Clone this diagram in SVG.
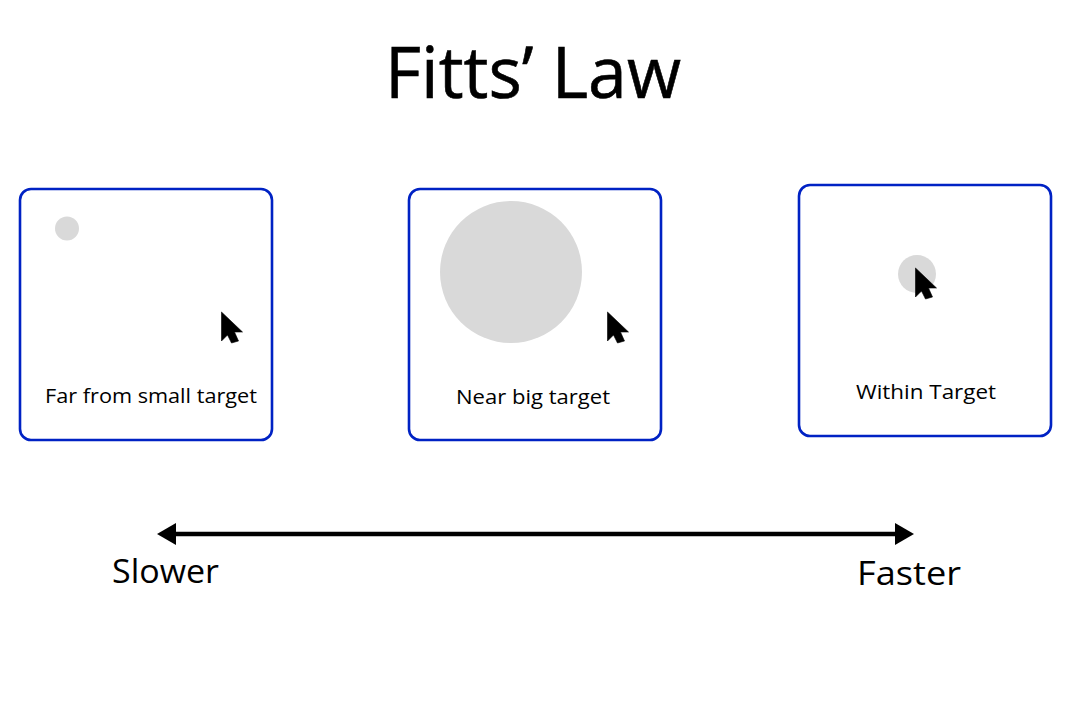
<svg xmlns="http://www.w3.org/2000/svg" width="1069" height="723" viewBox="0 0 1069 723">
<style>
.card{fill:#fff;stroke:#0022c4;stroke-width:2.6}
.target{fill:#d9d9d9}
.label{font-family:"Open Sans","Liberation Sans",sans-serif;font-size:20px;fill:#000}
.end{font-family:"Open Sans","Liberation Sans",sans-serif;font-size:33px;fill:#000}
.title{font-family:"Open Sans","Liberation Sans",sans-serif;font-size:71px;fill:#000}
</style>
<defs>
<path id="cursor" d="M0,0 L0,29 L6,23 L10,31 L17,29 L13,20 L21,20 Z" fill="#000" stroke="#000" stroke-width="0.6" stroke-linejoin="round"/>
<marker id="head" markerUnits="userSpaceOnUse" markerWidth="19" markerHeight="24" refX="8" refY="12" orient="auto-start-reverse">
<path d="M0,1 L19,12 L0,23 Z" fill="#000"/>
</marker>
</defs>
<rect width="1069" height="723" fill="#fff"/>
<text id="title" class="title" x="533" y="97.500" text-anchor="middle" textLength="296" lengthAdjust="spacingAndGlyphs" stroke="#000" stroke-width="0.6">Fitts’ Law</text>
<g id="node-far">
<rect class="card" x="20" y="189" width="252" height="251" rx="11"/>
<circle class="target" cx="67" cy="228.500" r="12"/>
<use href="#cursor" x="221.500" y="312"/>
<text class="label" x="45" y="403" textLength="212" lengthAdjust="spacingAndGlyphs">Far from small target</text>
</g>
<g id="node-near">
<rect class="card" x="409" y="189" width="252" height="251" rx="11"/>
<circle class="target" cx="511" cy="272" r="71"/>
<use href="#cursor" x="607.500" y="312"/>
<text class="label" x="456" y="404" textLength="154" lengthAdjust="spacingAndGlyphs">Near big target</text>
</g>
<g id="node-within">
<rect class="card" x="799" y="185" width="252" height="251" rx="11"/>
<circle class="target" cx="917" cy="274" r="19"/>
<use href="#cursor" x="915.500" y="268"/>
<text class="label" x="856" y="399" textLength="140" lengthAdjust="spacingAndGlyphs">Within Target</text>
</g>
<g id="connectors">
<line x1="168" y1="534" x2="903" y2="534" stroke="#000" stroke-width="4.500" marker-start="url(#head)" marker-end="url(#head)"/>
</g>
<text id="slower" class="end" x="112" y="582.500" textLength="107" lengthAdjust="spacingAndGlyphs">Slower</text>
<text id="faster" class="end" x="857" y="584.500" textLength="104" lengthAdjust="spacingAndGlyphs">Faster</text>
</svg>
